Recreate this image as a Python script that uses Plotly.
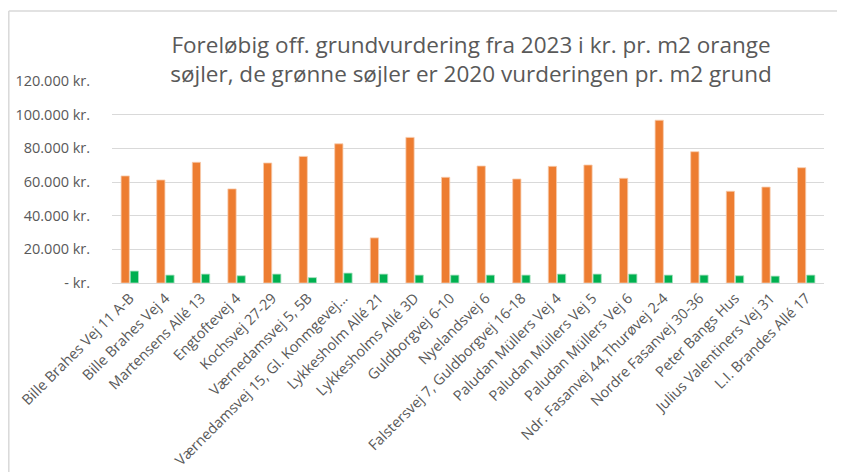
import plotly.graph_objects as go

categories = [
    "Bille Brahes Vej 11 A-B", "Bille Brahes Vej 4", "Martensens Allé 13", "Engtoftevej 4",
    "Kochsvej 27-29", "Værnedamsvej 5, 5B", "Værnedamsvej 15, Gl. Konmgevej...",
    "Lykkesholm Allé 21", "Lykkesholms Allé 3D", "Guldborgvej 6-10", "Nyelandsvej 6",
    "Falstersvej 7, Guldborgvej 16-18", "Paludan Müllers Vej 4", "Paludan Müllers Vej 5",
    "Paludan Müllers Vej 6", "Ndr. Fasanvej 44,Thurøvej 2-4", "Nordre Fasanvej 30-36",
    "Peter Bangs Hus", "Julius Valentiners Vej 31", "L.I. Brandes Allé 17",
]
values_2023 = [63600, 61200, 71700, 55900, 71300, 75200, 82700, 26800, 86500, 62800,
               69500, 61800, 69300, 70100, 62200, 96700, 78000, 54500, 57000, 68500]
values_2020 = [7100, 4700, 5300, 4300, 5300, 3200, 5900, 5300, 4700, 4700,
               4700, 4700, 5300, 5300, 5300, 4700, 4700, 4300, 4100, 4700]
tick_values = [0, 20000, 40000, 60000, 80000, 100000, 120000]
tick_labels = ["- kr.", "20.000 kr.", "40.000 kr.", "60.000 kr.", "80.000 kr.",
               "100.000 kr.", "120.000 kr."]
title_text = ("Foreløbig off. grundvurdering fra 2023 i kr. pr. m2 orange<br>"
              "søjler, de grønne søjler er 2020 vurderingen pr. m2 grund")

# page body has an 8px margin; figure sized to fit the window
W, H = 837, 464
L, R, T, B = 104, 21, 73, 189

fig = go.Figure()
fig.add_trace(go.Bar(x=categories, y=values_2023, name="2023",
                     marker=dict(color="#ED7D31", line=dict(color="#F8CBAD", width=0.8))))
fig.add_trace(go.Bar(x=categories, y=values_2020, name="2020",
                     marker=dict(color="#00B050", line=dict(color="#A9E2C0", width=0.8))))

pw = W - L - R
ph = H - T - B
def px_to_paper_x(px):
    return (px - L) / pw
def px_to_paper_y(py):
    return (H - B - py) / ph

border = dict(color="#d9d9d9", width=1.5)
fig.update_layout(
    width=W, height=H,
    margin=dict(l=L, r=R, t=T, b=B, autoexpand=False),
    paper_bgcolor="white", plot_bgcolor="white",
    barmode="group", bargap=0.485, bargroupgap=0.1,
    showlegend=False,
    font=dict(family="Open Sans, sans-serif", color="#595959"),
    title=dict(text=title_text, x=463 / W, xanchor="center", y=1 - 45 / H, yanchor="middle",
               font=dict(size=22.5, color="#595959", family="Open Sans, sans-serif")),
    xaxis=dict(tickangle=-45, tickfont=dict(size=14.5, color="#595959"), automargin=False,
               showline=True, linecolor="#d9d9d9", linewidth=1, ticks=""),
    yaxis=dict(range=[0, 120000], tickvals=tick_values, ticktext=tick_labels, automargin=False,
               tickfont=dict(size=14.5, color="#595959"), gridcolor="#d9d9d9", gridwidth=1,
               zeroline=False, ticks="outside", ticklen=18, tickcolor="rgba(0,0,0,0)"),
    shapes=[
        dict(type="line", xref="paper", yref="paper",
             x0=px_to_paper_x(0.8), x1=px_to_paper_x(W), y0=px_to_paper_y(3), y1=px_to_paper_y(3),
             line=border, layer="below"),
        dict(type="line", xref="paper", yref="paper",
             x0=px_to_paper_x(0.8), x1=px_to_paper_x(0.8), y0=px_to_paper_y(3), y1=px_to_paper_y(H),
             line=border, layer="below"),
    ],
)

fig.write_html("out.html", config={"displayModeBar": False})
